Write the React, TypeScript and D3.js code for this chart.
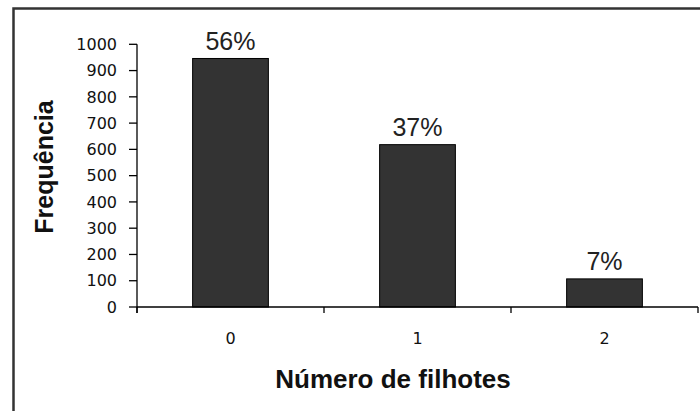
import React from "react";
import * as d3 from "d3";

const categories = ["0", "1", "2"];
const values = [946, 618, 107];
const percentLabels = ["56%", "37%", "7%"];
const yTicks = [0, 100, 200, 300, 400, 500, 600, 700, 800, 900, 1000];

export default function App() {
  const W = 700, H = 411;
  const x0 = 137, x1 = 698, yTop = 44.3, yBottom = 307;
  const x = d3.scaleBand<string>().domain(categories).range([x0, x1]).paddingInner(0).paddingOuter(0);
  const y = d3.scaleLinear().domain([0, 1000]).range([yBottom, yTop]);
  const barW = x.bandwidth() * 0.405;
  const boundaries = [x0, ...categories.map((c) => (x(c) as number) + x.bandwidth())];

  return (
    <svg width={W} height={H} style={{ position: "absolute", left: 0, top: 0, background: "#fff" }}>
      <rect x={0} y={0} width={W} height={H} fill="#fff" />
      <rect x={13.5} y={8.5} width={W + 20} height={H + 20} fill="none" stroke="#333" strokeWidth={2.5} />
      {/* bars */}
      {categories.map((c, i) => {
        const cx = (x(c) as number) + x.bandwidth() / 2;
        return (
          <g key={c}>
            <rect
              x={cx - barW / 2}
              y={y(values[i])}
              width={barW}
              height={yBottom - y(values[i])}
              fill="#333333"
              stroke="#000"
              strokeWidth={1}
            />
            <text
              x={cx}
              y={y(values[i]) - 8.5}
              textAnchor="middle"
              fontFamily="'Liberation Sans', Arial, sans-serif"
              fontSize={25}
              fill="#222"
            >
              {percentLabels[i]}
            </text>
            <text
              x={cx}
              y={344}
              textAnchor="middle"
              fontFamily="'DejaVu Sans', sans-serif"
              fontSize={16}
              fill="#111"
            >
              {c}
            </text>
          </g>
        );
      })}
      {/* y axis */}
      <line x1={x0} x2={x0} y1={yTop} y2={yBottom + 6} stroke="#000" strokeWidth={1.3} />
      {yTicks.map((t) => (
        <g key={t}>
          <line x1={129} x2={x0} y1={y(t)} y2={y(t)} stroke="#000" strokeWidth={1.3} />
          <text
            x={117}
            y={y(t)}
            dy="0.36em"
            textAnchor="end"
            fontFamily="'DejaVu Sans', sans-serif"
            fontSize={16}
            fill="#111"
          >
            {t}
          </text>
        </g>
      ))}
      {/* x axis */}
      <line x1={x0} x2={x1} y1={yBottom} y2={yBottom} stroke="#000" strokeWidth={1.3} />
      {boundaries.map((b, i) => (
        <line key={i} x1={b} x2={b} y1={yBottom} y2={yBottom + 6} stroke="#000" strokeWidth={1.3} />
      ))}
      {/* titles */}
      <text
        x={393}
        y={388}
        textAnchor="middle"
        fontFamily="'Liberation Sans', Arial, sans-serif"
        fontWeight="bold"
        fontSize={26}
        fill="#111"
      >
        Número de filhotes
      </text>
      <text
        transform="translate(53,167) rotate(-90)"
        textAnchor="middle"
        fontFamily="'Liberation Sans', Arial, sans-serif"
        fontWeight="bold"
        fontSize={25}
        fill="#111"
      >
        Frequência
      </text>
    </svg>
  );
}
